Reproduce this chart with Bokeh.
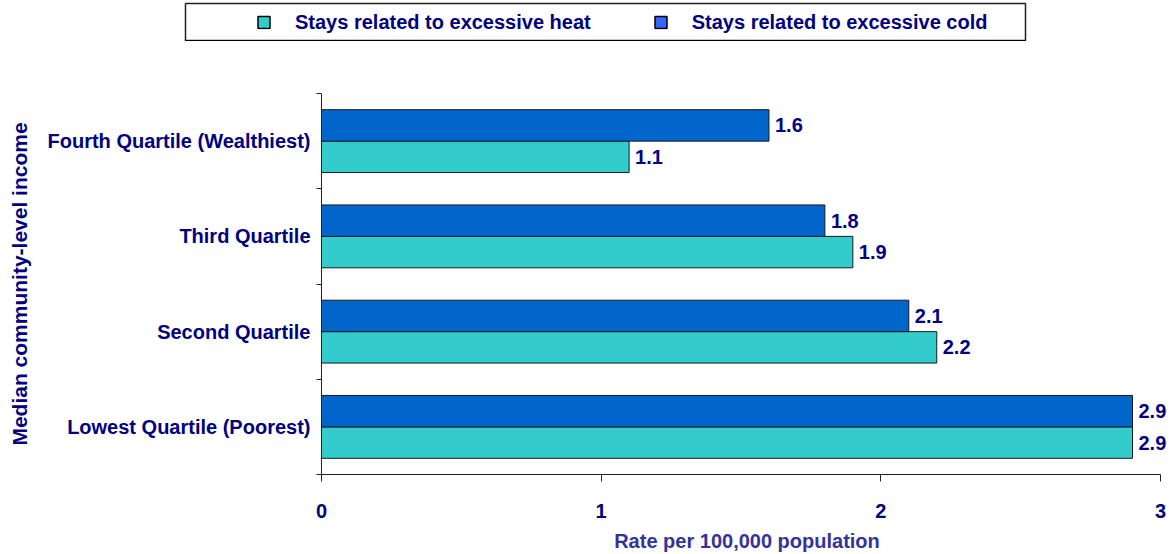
from bokeh.plotting import figure
from bokeh.models import (Range1d, FixedTicker, Legend, LegendItem, ColumnDataSource,
                          LabelSet)
from bokeh.layouts import column
from bokeh.core.properties import value
from bokeh.embed import file_html
from bokeh.resources import INLINE

# ---- data ----
categories = ["Lowest Quartile (Poorest)", "Second Quartile", "Third Quartile",
              "Fourth Quartile (Wealthiest)"]
heat = [2.9, 2.2, 1.9, 1.1]
cold = [2.9, 2.1, 1.8, 1.6]
heat_labels = ["2.9", "2.2", "1.9", "1.1"]
cold_labels = ["2.9", "2.1", "1.8", "1.6"]
series_names = ["Stays related to excessive heat", "Stays related to excessive cold"]
x_ticks = [0, 1, 2, 3]

NAVY = "#000080"
FONT = "Liberation Sans"
HEAT_C = "#33CCCC"
COLD_C = "#0066CC"
COLD_SWATCH = "#3366FF"
EDGE = "#1a1a1a"
BAR_H = 0.33

pos = [i + 0.5 for i in range(len(categories))]
src = ColumnDataSource(dict(
    heat_y=[p_ - BAR_H / 2 for p_ in pos],
    cold_y=[p_ + BAR_H / 2 for p_ in pos],
    heat=heat, cold=cold, heat_lab=heat_labels, cold_lab=cold_labels,
))

# ---------------- legend strip (boxed) ----------------
lg = figure(width=1030, height=41, output_backend="svg", toolbar_location=None,
            x_range=Range1d(0, 1), y_range=Range1d(100, 101),
            min_border_left=185, min_border_right=5, min_border_top=3, min_border_bottom=0)
lg.frame_align = False
lg.axis.visible = False
lg.xgrid.visible = False
lg.ygrid.visible = False
lg.outline_line_color = "#222222"
lg.outline_line_width = 1.5
# same series drawn in the legend strip (outside its visible range) to key the legend
lh = lg.hbar(y="heat_y", right="heat", left=0, height=BAR_H, source=src,
             fill_color=HEAT_C, line_color="#000000", line_width=1.5)
lc = lg.hbar(y="cold_y", right="cold", left=0, height=BAR_H, source=src,
             fill_color=COLD_SWATCH, line_color="#000000", line_width=1.5)
legend = Legend(items=[LegendItem(label=series_names[0], renderers=[lh]),
                       LegendItem(label=series_names[1], renderers=[lc])],
                orientation="horizontal", location="left", margin=71,
                border_line_color=None, background_fill_alpha=0,
                padding=0, spacing=62, label_standoff=24,
                glyph_width=15, glyph_height=15, label_height=15,
                label_text_font=FONT, label_text_font_style="bold",
                label_text_font_size="20px", label_text_color=NAVY)
lg.add_layout(legend, "center")

# ---------------- main chart ----------------
X_END = 3.043
p = figure(width=1172, height=513, output_backend="svg", toolbar_location=None,
           x_range=Range1d(0, X_END), y_range=Range1d(0, len(categories)),
           min_border_left=321, min_border_right=0, min_border_top=52,
           min_border_bottom=80)
p.frame_align = False
p.outline_line_color = None
p.xgrid.visible = False
p.ygrid.visible = False

p.hbar(y="heat_y", right="heat", left=0, height=BAR_H, source=src,
       fill_color=HEAT_C, line_color=EDGE, line_width=1)
p.hbar(y="cold_y", right="cold", left=0, height=BAR_H, source=src,
       fill_color=COLD_C, line_color=EDGE, line_width=1)

for ycol, xcol, tcol in [("heat_y", "heat", "heat_lab"), ("cold_y", "cold", "cold_lab")]:
    ls = LabelSet(x=xcol, y=ycol, text=tcol, source=src, x_offset=6,
                  text_font=value(FONT), text_font_style="bold", text_font_size="20px",
                  text_color=NAVY, text_baseline="middle", text_align="left")
    p.add_layout(ls)

# x axis
xa = p.xaxis[0]
xa.bounds = (x_ticks[0], x_ticks[-1])
xa.ticker = FixedTicker(ticks=x_ticks)
xa.major_tick_in = 0
xa.major_tick_out = 7
xa.minor_tick_line_color = None
xa.axis_line_color = "#222222"
xa.major_tick_line_color = "#222222"
xa.major_label_text_font = FONT
xa.major_label_text_font_style = "bold"
xa.major_label_text_font_size = "20px"
xa.major_label_text_color = NAVY
xa.major_label_standoff = 22
xa.axis_label = "Rate per 100,000 population"
xa.axis_label_text_font = FONT
xa.axis_label_text_font_style = "bold"
xa.axis_label_text_font_size = "20px"
xa.axis_label_text_color = "#333399"
xa.axis_label_standoff = 9

# y axis
ya = p.yaxis[0]
ya.ticker = FixedTicker(ticks=pos, minor_ticks=list(range(len(categories) + 1)))
ya.major_label_overrides = {v: c for v, c in zip(pos, categories)}
ya.major_tick_in = 0
ya.major_tick_out = 0
ya.minor_tick_in = 0
ya.minor_tick_out = 5
ya.minor_tick_line_color = "#222222"
ya.axis_line_color = "#222222"
ya.major_label_text_font = FONT
ya.major_label_text_font_style = "bold"
ya.major_label_text_font_size = "20px"
ya.major_label_text_color = NAVY
ya.major_label_standoff = 6
ya.axis_label = "Median community-level income"
ya.axis_label_text_font = FONT
ya.axis_label_text_font_style = "bold"
ya.axis_label_text_font_size = "21px"
ya.axis_label_text_color = NAVY
ya.axis_label_standoff = 14

layout = column(lg, p, spacing=0)
open("out.html", "w").write(file_html(layout, INLINE))
